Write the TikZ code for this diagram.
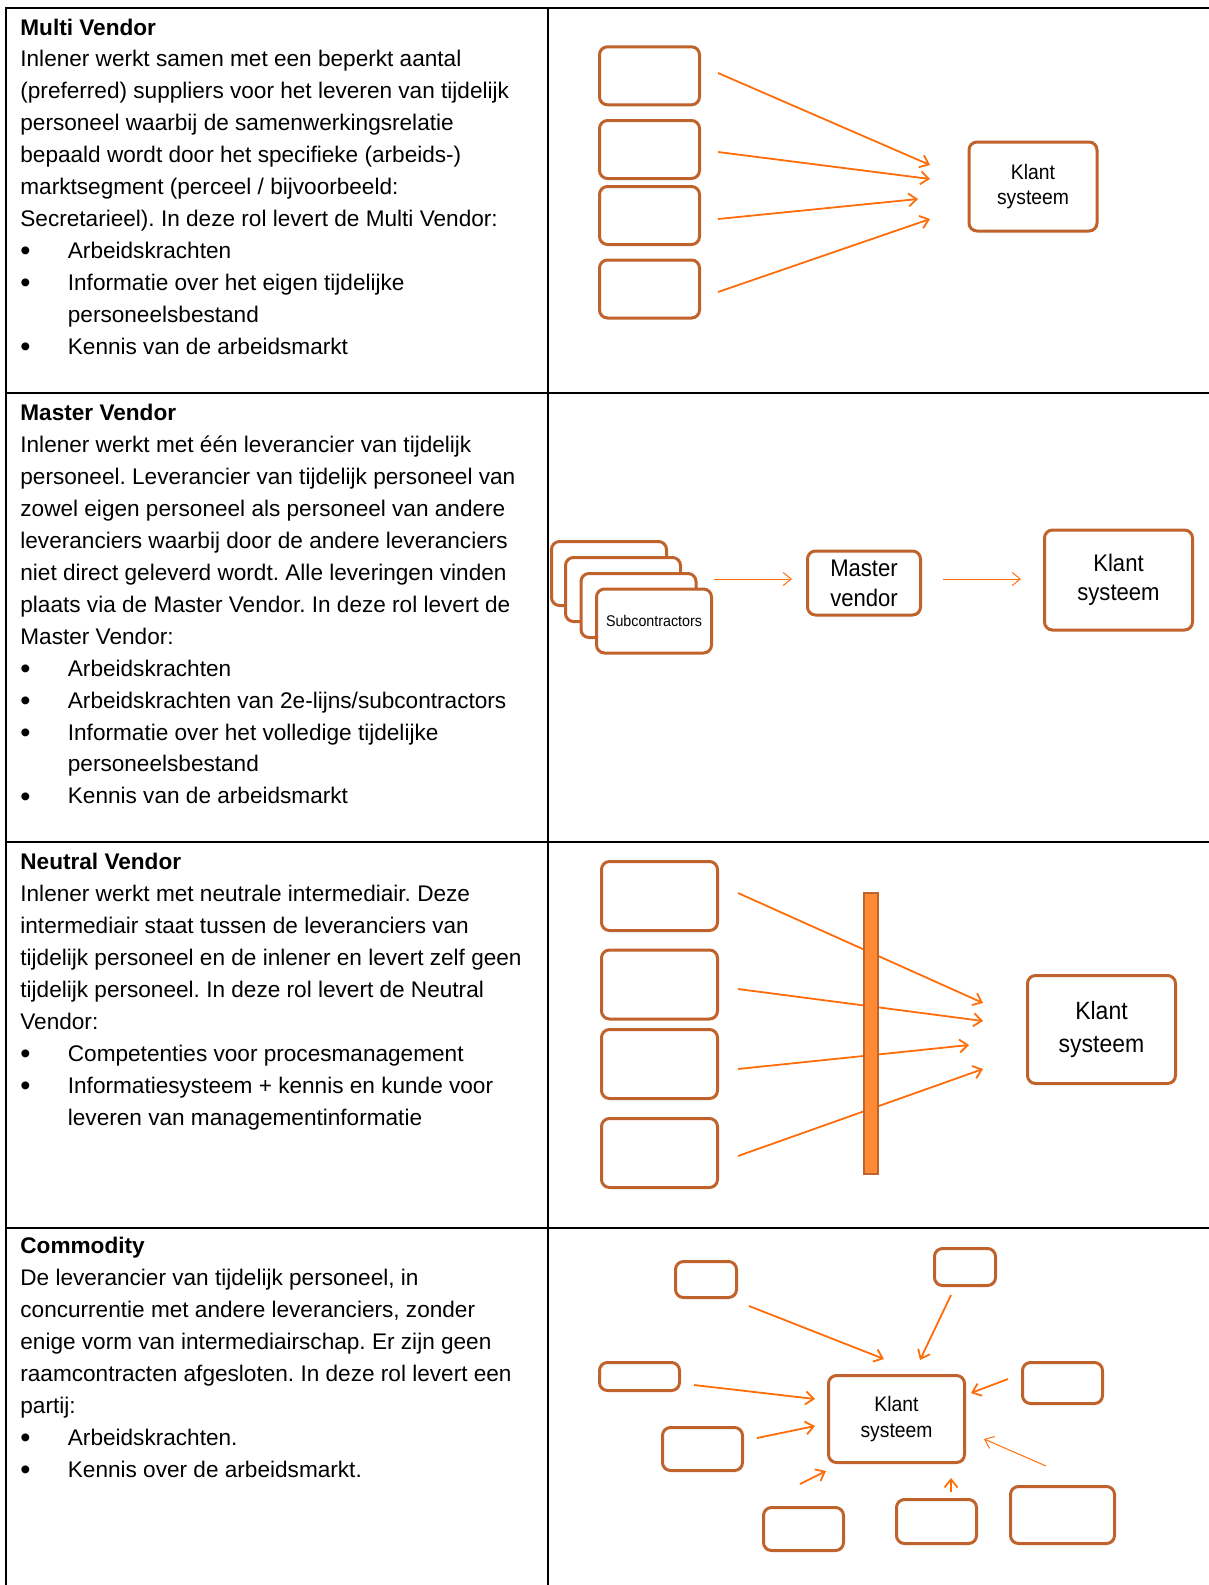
\documentclass[tikz,border=0pt]{standalone}
\usepackage{fontspec}
\usepackage{graphicx}
\setmainfont{Liberation Sans}
\frenchspacing
\usetikzlibrary{arrows.meta}
\definecolor{boxbrown}{RGB}{192,98,43}
\definecolor{arrorange}{RGB}{255,108,10}
\definecolor{barfill}{RGB}{255,138,51}
\newcommand{\itemdot}{\llap{\makebox[47.5pt][l]{\raisebox{-2.2pt}{\fontsize{29}{29}\selectfont\textbullet}}}}
\newcommand{\sq}[1]{\scalebox{0.92}[1]{#1}}
\tikzset{
  rule/.style={draw=black, line width=2pt},
  txt/.style={anchor=base west, inner sep=0pt, font=\fontsize{22.6}{31.95}\selectfont},
  box/.style={draw=boxbrown, line width=3pt, rounded corners=8pt, fill=white, inner sep=0pt, align=center},
  feed/.style={draw=arrorange, line width=1.8pt, ->},
  thinfeed/.style={feed, line width=1pt}
}
\begin{document}
\begin{tikzpicture}[x=1pt,y=-1pt,>={Straight Barb[length=8pt,width=13pt]}]
\useasboundingbox (0,0) rectangle (1209,1585);
% table
\draw[rule] (6,1585) -- (6,8) -- (1209,8);
\draw[rule] (548,8) -- (548,1585);
\foreach \y in {393.3,842.2,1228.4} \draw[rule] (6,\y) -- (1209,\y);

% left column
\foreach \x/\t [count=\idx from 0] in {
  20.2/{\bfseries Multi Vendor},
  20.2/{Inlener werkt samen met een beperkt aantal},
  20.2/{(preferred) suppliers voor het leveren van tijdelijk},
  20.2/{personeel waarbij de samenwerkingsrelatie},
  20.2/{bepaald wordt door het specifieke (arbeids-)},
  20.2/{marktsegment (perceel / bijvoorbeeld:},
  20.2/{Secretarieel). In deze rol levert de Multi Vendor:},
  67.7/{\itemdot Arbeidskrachten},
  67.7/{\itemdot Informatie over het eigen tijdelijke},
  67.7/{personeelsbestand},
  67.7/{\itemdot Kennis van de arbeidsmarkt}}
  \node[txt] (mvt\idx) at (\x,35+31.95*\idx) {\t};

\foreach \x/\t [count=\idx from 0] in {
  20.2/{\bfseries Master Vendor},
  20.2/{Inlener werkt met één leverancier van tijdelijk},
  20.2/{personeel. Leverancier van tijdelijk personeel van},
  20.2/{zowel eigen personeel als personeel van andere},
  20.2/{leveranciers waarbij door de andere leveranciers},
  20.2/{niet direct geleverd wordt. Alle leveringen vinden},
  20.2/{plaats via de Master Vendor. In deze rol levert de},
  20.2/{Master Vendor:},
  67.7/{\itemdot Arbeidskrachten},
  67.7/{\itemdot Arbeidskrachten van 2e-lijns/subcontractors},
  67.7/{\itemdot Informatie over het volledige tijdelijke},
  67.7/{personeelsbestand},
  67.7/{\itemdot Kennis van de arbeidsmarkt}}
  \node[txt] (mst\idx) at (\x,420.5+31.95*\idx) {\t};

\foreach \x/\t [count=\idx from 0] in {
  20.2/{\bfseries Neutral Vendor},
  20.2/{Inlener werkt met neutrale intermediair. Deze},
  20.2/{intermediair staat tussen de leveranciers van},
  20.2/{tijdelijk personeel en de inlener en levert zelf geen},
  20.2/{tijdelijk personeel. In deze rol levert de Neutral},
  20.2/{Vendor:},
  67.7/{\itemdot Competenties voor procesmanagement},
  67.7/{\itemdot Informatiesysteem + kennis en kunde voor},
  67.7/{leveren van managementinformatie}}
  \node[txt] (nvt\idx) at (\x,869.5+31.95*\idx) {\t};

\foreach \x/\t [count=\idx from 0] in {
  20.2/{\bfseries Commodity},
  20.2/{De leverancier van tijdelijk personeel, in},
  20.2/{concurrentie met andere leveranciers, zonder},
  20.2/{enige vorm van intermediairschap. Er zijn geen},
  20.2/{raamcontracten afgesloten. In deze rol levert een},
  20.2/{partij:},
  67.7/{\itemdot Arbeidskrachten.},
  67.7/{\itemdot Kennis over de arbeidsmarkt.}}
  \node[txt] (cmt\idx) at (\x,1253.5+31.95*\idx) {\t};

% multi vendor
\foreach \y [count=\idx] in {75.8,149.5,215.5,289}
  \node[box, minimum width=100pt, minimum height=58pt] (mv\idx) at (649.5,\y) {};
\node[box, minimum width=128pt, minimum height=89pt, font=\fontsize{21}{25}\selectfont] (mvk) at (1033,186.5) {\sq{Klant}\\\sq{systeem}};
\foreach \idx/\sy/\ex/\ey in {1/73/930/165, 2/152/930/179, 3/219/918/199, 4/292/930/219} {
  \coordinate (mva\idx) at (718,\sy);
  \coordinate (mvb\idx) at (\ex,\ey);
  \draw[feed] (mva\idx) -- (mvb\idx);
}

% master vendor
\foreach \x/\y [count=\idx] in {609/573.5, 623/589.5, 638.5/605.5}
  \node[box, minimum width=115pt, minimum height=64pt] (sub\idx) at (\x,\y) {};
\node[box, minimum width=115pt, minimum height=64pt, font=\fontsize{15.5}{17}\selectfont] (sub4) at (654,621) {\sq{Subcontractors}};
\node[box, minimum width=113pt, minimum height=64pt, font=\fontsize{24}{30}\selectfont] (mst) at (864,583) {\sq{Master}\\\sq{vendor}};
\node[box, minimum width=148pt, minimum height=100pt, font=\fontsize{24}{29}\selectfont] (msk) at (1118.5,580) {\sq{Klant}\\\sq{systeem}};
\coordinate (msa1) at (714,579);
\coordinate (msb1) at (792,579);
\coordinate (msa2) at (943,579);
\coordinate (msb2) at (1021,579);
\draw[thinfeed] (msa1) -- (msb1);
\draw[thinfeed] (msa2) -- (msb2);

% neutral vendor
\foreach \y [count=\idx] in {896,984.5,1064,1153}
  \node[box, minimum width=116pt, minimum height=69pt] (nv\idx) at (659.5,\y) {};
\node[box, minimum width=148pt, minimum height=108pt, font=\fontsize{25}{33}\selectfont] (nvk) at (1101.5,1029.5) {\sq{Klant}\\\sq{systeem}};
\foreach \idx/\sy/\ex/\ey in {1/893/983/1003, 2/989/983/1021, 3/1069/969/1045, 4/1156/983/1069} {
  \coordinate (nva\idx) at (738,\sy);
  \coordinate (nvb\idx) at (\ex,\ey);
  \draw[feed] (nva\idx) -- (nvb\idx);
}
\node[draw=boxbrown, fill=barfill, line width=2pt, inner sep=0pt, minimum width=14pt, minimum height=281pt] (bar) at (871,1033.5) {};

% commodity
\node[box, minimum width=136pt, minimum height=87pt, font=\fontsize{21}{26}\selectfont] (cmk) at (896.5,1419) {\sq{Klant}\\\sq{systeem}};
\foreach \n/\x/\y/\w/\h in {a/706/1279.5/61/36, b/965/1267/61/37, c/639.5/1376.5/80/28, d/1062.5/1383/80/41,
  e/702.5/1449/80/43, f/803.5/1529/80/43, g/936.5/1521.5/80/44, h/1062.5/1515/104/57}
  \node[box, minimum width=\w pt, minimum height=\h pt] (cm\n) at (\x,\y) {};
\foreach \n/\sx/\sy/\ex/\ey in {a/749/1306/884/1359, b/951/1295/920/1360, c/694/1385/815/1399, d/1008/1379/971/1393,
  e/757/1438/815/1426, f/800/1484/826/1471, g/951/1492/951/1478} {
  \coordinate (cma\n) at (\sx,\sy);
  \coordinate (cmb\n) at (\ex,\ey);
  \draw[feed] (cma\n) -- (cmb\n);
}
\coordinate (cmah) at (1046,1466);
\coordinate (cmbh) at (984,1439);
\draw[thinfeed] (cmah) -- (cmbh);
\end{tikzpicture}
\end{document}
